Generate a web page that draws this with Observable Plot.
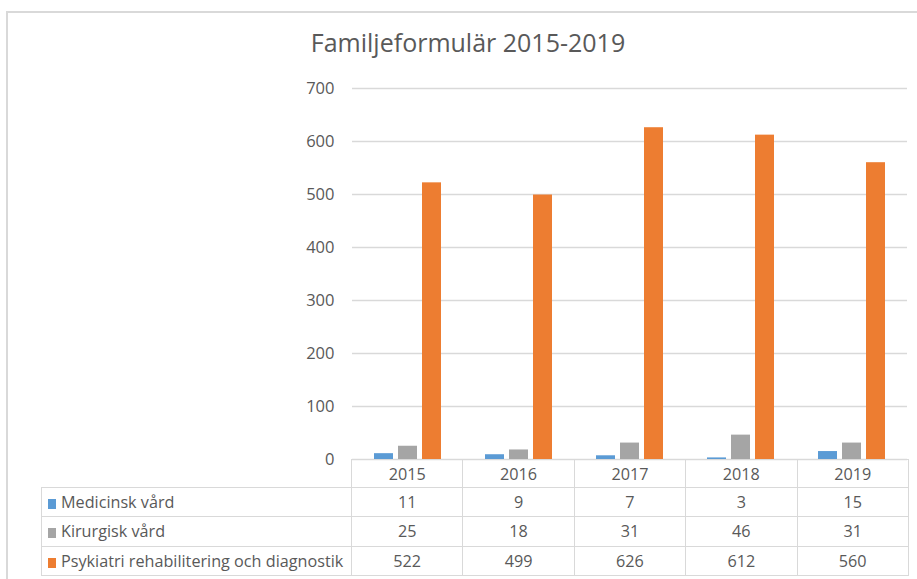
<!DOCTYPE html>
<html>
<head>
<meta charset="utf-8">
<script src="https://cdn.jsdelivr.net/npm/d3@7"></script>
<script src="https://cdn.jsdelivr.net/npm/@observablehq/plot@0.6"></script>
<style>
  html, body { margin: 0; padding: 0; background: #fff; }
  #wrap { position: relative; width: 917px; height: 579px; overflow: hidden; font-family: "Open Sans", sans-serif; color: #595959; }
  #frame { position: absolute; left: 6px; top: 11px; width: 1000px; height: 700px; border: 2px solid #d9d9d9; box-sizing: border-box; }
  #title { position: absolute; left: 0; top: 25px; width: 936px; text-align: center; font-family: "Open Sans", sans-serif; font-size: 25px; color: #595959; }
  #chart { position: absolute; left: 0; top: 0; }
  #tbl { position: absolute; left: 41px; top: 459px; border-collapse: collapse; font-size: 16.2px; color: #595959; }
  #tbl td { border: 1px solid #d9d9d9; padding: 0; text-align: center; height: 28px; box-sizing: border-box; }
  #tbl td.lab { text-align: left; width: 310px; padding-left: 6px; white-space: nowrap; }
  #tbl td.num { width: 111.4px; }
  #tbl td.blank { border: none; border-right: 1px solid #d9d9d9; }
  #tbl .sw { display: inline-block; width: 8px; height: 10px; margin-right: 5px; vertical-align: -1px; }
</style>
</head>
<body>
<div id="wrap">
  <div id="frame"></div>
  <div id="title">Familjeformulär 2015-2019</div>
  <div id="chart"></div>
  <table id="tbl"></table>
</div>
<script>
const years = ["2015", "2016", "2017", "2018", "2019"];
const seriesNames = ["Medicinsk vård", "Kirurgisk vård", "Psykiatri rehabilitering och diagnostik"];
const medicinsk = [11, 9, 7, 3, 15];
const kirurgisk = [25, 18, 31, 46, 31];
const psykiatri = [522, 499, 626, 612, 560];
const colors = ["#5B9BD5", "#A5A5A5", "#ED7D31"];
const yTicks = [0, 100, 200, 300, 400, 500, 600, 700];

const seriesValues = [medicinsk, kirurgisk, psykiatri];
const data = [];
seriesNames.forEach((s, i) => years.forEach((y, j) => data.push({year: y, series: s, value: seriesValues[i][j]})));

const chart = Plot.plot({
  width: 917,
  height: 579,
  marginLeft: 351,
  marginRight: 9,
  marginTop: 88,
  marginBottom: 120,
  style: {fontFamily: "'Open Sans', sans-serif", fontSize: "16px", color: "#595959", background: "transparent"},
  fx: {domain: years, padding: 0, axis: null},
  x: {domain: seriesNames, paddingInner: 0.2, paddingOuter: 0.9, axis: null},
  y: {domain: [0, 700], axis: null},
  color: {domain: seriesNames, range: colors},
  marks: [
    Plot.ruleY(yTicks, {stroke: "#d9d9d9", strokeWidth: 1.3, strokeOpacity: 1}),
    Plot.barY(data, {fx: "year", x: "series", y: "value", fill: "series", inset: 0}),
    Plot.axisY({ticks: yTicks, tickSize: 0, tickPadding: 18, label: null, fill: "#595959", fontSize: 16.5, facetAnchor: "left"})
  ]
});
document.getElementById("chart").appendChild(chart);

const tbl = document.getElementById("tbl");
let html = "<tr><td class='blank lab'></td>" + years.map(y => `<td class='num'>${y}</td>`).join("") + "</tr>";
seriesNames.forEach((s, i) => {
  html += `<tr style="height:29.3px"><td class='lab'><span class='sw' style='background:${colors[i]}'></span>${s}</td>` +
    seriesValues[i].map(v => `<td class='num' style='height:29.3px'>${v}</td>`).join("") + "</tr>";
});
tbl.innerHTML = html;
</script>
</body>
</html>
